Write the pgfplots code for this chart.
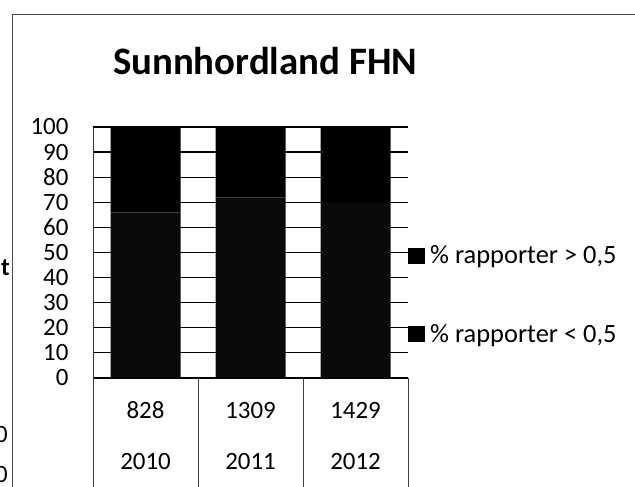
\documentclass[border=0pt]{standalone}
\usepackage{pgfplots}
\pgfplotsset{compat=1.18}
\usepackage{fontspec}
\setmainfont{Carlito}

\begin{document}
\begin{tikzpicture}[x=1bp,y=1bp]
\path[use as bounding box] (0,0) rectangle (635,487);
\clip (0,0) rectangle (635,487);
% chart frame (left and top)
\draw[black!70, line width=1bp] (12,0) -- (12,472) -- (635,472);
% cut-off bits of the neighbouring chart
\node[anchor=east, inner sep=0, font=\fontsize{25}{30}\selectfont\bfseries] at (10,219) {t};
\node[anchor=east, inner sep=0, font=\fontsize{25}{30}\selectfont] at (8,52) {0};
\node[anchor=east, inner sep=0, font=\fontsize{25}{30}\selectfont] at (8,12) {0};
\node[font=\fontsize{39}{45}\selectfont\bfseries] at (265,426) {Sunnhordland FHN};

\begin{axis}[
  at={(93bp,109bp)}, anchor=south west,
  scale only axis, width=315bp, height=251bp,
  ybar stacked, bar width=70bp,
  xmin=-0.5, xmax=2.5, ymin=0, ymax=100,
  xtick=data,
  xticklabels={{\strut 828\\[21bp]\strut 2010},{\strut 1309\\[21bp]\strut 2011},{\strut 1429\\[21bp]\strut 2012}},
  ytick={0,10,...,100},
  ymajorgrids, grid style={black, line width=1.2bp},
  axis y line*=left, axis x line*=bottom,
  x axis line style={draw=none}, y axis line style={black!80, line width=1bp},
  major tick length=0,
  /pgf/number format/assume math mode=true,
  tick label style={font=\fontsize{25}{30}\selectfont},
  yticklabel style={xshift=-21bp},
  xticklabel style={align=center, yshift=-16bp},
  legend style={at={(axis description cs:1,0.331)}, anchor=west, draw=none, fill=none,
    inner sep=0pt, font=\fontsize{26.5}{31}\selectfont, row sep=55bp},
  legend cell align=left,
  reverse legend,
  clip=false,
]
\addplot[fill=black!96, draw=none,
  legend image code/.code={\fill[black] (0bp,-8bp) rectangle (17bp,8bp);}]
  coordinates {(0,66) (1,72) (2,70)};
\addlegendentry{\hspace{3bp}\% rapporter < 0,5}
\addplot[fill=black, draw=none,
  legend image code/.code={\fill[black] (0bp,-8bp) rectangle (17bp,8bp);}]
  coordinates {(0,34) (1,28) (2,30)};
\addlegendentry{\hspace{3bp}\% rapporter > 0,5}
% data table lines under the plot
\draw[black!75, line width=1bp] (axis cs:-0.5,0) -- ([yshift=-130bp]axis cs:-0.5,0);
\draw[black!75, line width=1bp] (axis cs:0.5,0) -- ([yshift=-130bp]axis cs:0.5,0);
\draw[black!75, line width=1bp] (axis cs:1.5,0) -- ([yshift=-130bp]axis cs:1.5,0);
\draw[black!75, line width=1bp] (axis cs:2.5,0) -- ([yshift=-130bp]axis cs:2.5,0);
\end{axis}
\end{tikzpicture}
\end{document}
